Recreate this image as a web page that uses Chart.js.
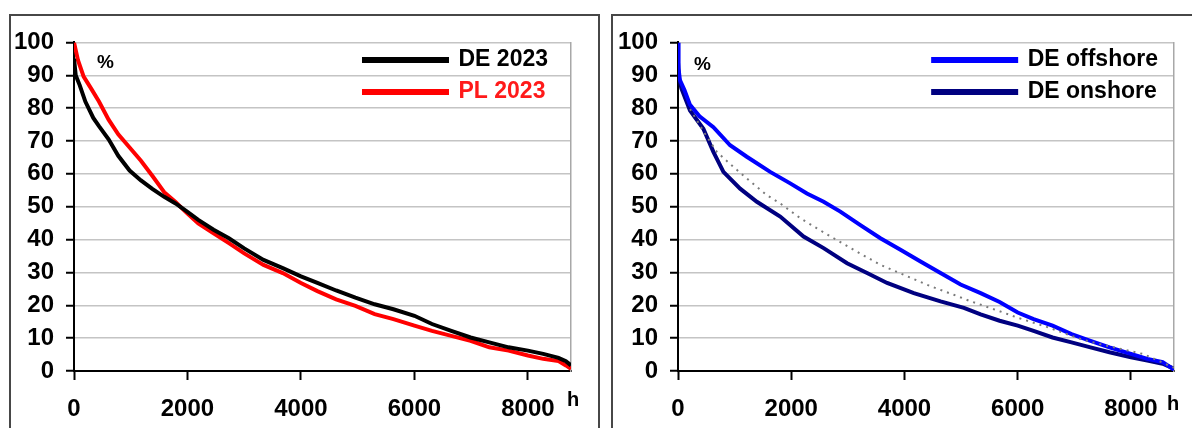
<!DOCTYPE html>
<html>
<head>
<meta charset="utf-8">
<script src="https://cdn.jsdelivr.net/npm/chart.js@4.4.1/dist/chart.umd.min.js"></script>
<style>
  body { margin: 0; background: #fff; width: 1192px; height: 428px; overflow: hidden; position: relative; }
  .panel { position: absolute; top: 14px; height: 440px; border: 2px solid #474747; box-sizing: border-box; }
  #p1 { left: 9px; width: 591px; }
  #p2 { left: 611px; width: 600px; }
  .box { position: absolute; top: 16px; height: 412px; }
  #b1 { left: 11px; width: 587px; }
  #b2 { left: 613px; width: 579px; }
</style>
</head>
<body>
<div class="panel" id="p1"></div>
<div class="panel" id="p2"></div>
<div class="box" id="b1"><canvas id="left"></canvas></div>
<div class="box" id="b2"><canvas id="right"></canvas></div>
<script>
// duration curves, hours of the year vs % of max
const xTicks = [0, 2000, 4000, 6000, 8000];
const yTicks = [0, 10, 20, 30, 40, 50, 60, 70, 80, 90, 100];

const deHours = [0, 30, 100, 200, 340, 440, 610, 780, 980, 1180, 1380, 1590, 1790, 2000, 2190, 2460, 2730, 3000, 3340, 3680, 4000, 4290, 4620, 4960, 5300, 5630, 6000, 6310, 6650, 6990, 7320, 7660, 8000, 8270, 8540, 8670, 8760];
const deValues = [95, 90, 87, 82, 77, 74.5, 70.5, 65.5, 61, 58, 55.4, 53, 51, 48.4, 46, 43, 40.4, 37.3, 33.8, 31.3, 28.8, 26.8, 24.5, 22.3, 20.3, 18.8, 16.8, 14.3, 12.2, 10.2, 8.7, 7.2, 6.2, 5.2, 4, 3, 1.7];

const plHours = [0, 70, 170, 300, 440, 610, 780, 980, 1180, 1380, 1590, 1790, 2000, 2190, 2460, 2730, 3000, 3340, 3680, 4000, 4290, 4620, 4960, 5300, 5630, 6000, 6310, 6650, 6990, 7320, 7660, 8000, 8270, 8540, 8670, 8760];
const plValues = [100, 94.6, 89.6, 86, 82, 76.5, 72, 68, 64, 59.4, 54.4, 51.4, 47.9, 44.9, 41.9, 38.9, 35.8, 32.3, 29.8, 26.8, 24.3, 21.8, 19.8, 17.3, 15.8, 13.8, 12.2, 10.7, 9.2, 7.2, 6.2, 4.7, 3.7, 3, 1.7, 0.7];

const offHours = [0, 10, 34, 114, 212, 380, 625, 920, 1215, 1628, 1982, 2277, 2572, 2867, 3221, 3575, 3929, 4283, 4637, 4991, 5345, 5680, 6000, 6280, 6615, 6950, 7285, 7620, 8000, 8290, 8560, 8760];
const offValues = [100, 92, 88.5, 85.5, 81, 77.5, 74.2, 68.7, 65.2, 60.6, 57.1, 54, 51.5, 48.5, 44.4, 40.4, 36.9, 33.3, 29.8, 26.3, 23.7, 21, 17.8, 15.8, 13.8, 11.2, 9.2, 7.2, 5.2, 3.7, 2.7, 0.4];

const onHours = [0, 20, 60, 212, 448, 625, 802, 1097, 1393, 1805, 2218, 2572, 2986, 3339, 3693, 4165, 4637, 5050, 5345, 5680, 6000, 6280, 6615, 6950, 7285, 7620, 8000, 8290, 8560, 8760];
const onValues = [94, 89, 86, 79.3, 73.7, 66.7, 60.6, 55.5, 51.5, 47, 40.9, 37.4, 32.8, 29.8, 26.8, 23.7, 21.2, 19.2, 17.2, 15.3, 13.8, 12.2, 10.2, 8.7, 7.2, 5.7, 4.2, 3.2, 2.2, 0.7];

const totHours = [212, 478, 685, 920, 1215, 1570, 1805, 2160, 2455, 2750, 3100, 3575, 4050, 4460, 4870, 5170, 5680, 6000, 6500, 7115, 7470, 8230, 8760];
const totValues = [79.7, 72.2, 66.7, 63, 58.6, 53.5, 51, 46.5, 43.4, 40.4, 36.9, 32.3, 28.8, 25.8, 23.2, 21.2, 18.2, 16.2, 13.5, 9.7, 8.1, 5.1, 1];

const FONT = "'Liberation Sans', Arial, sans-serif";
const legendFont = { family: FONT, size: 23, weight: 'bold' };

const pts = (hs, vs) => hs.map((h, i) => ({ x: h, y: vs[i] }));

// legend inside the plot, right aligned; "%" and "h" labels
const extras = {
  id: 'extras',
  afterLayout(chart, args, o) {
    const lg = chart.legend, ca = chart.chartArea;
    if (!lg || !lg.legendItems) return;
    const ctx = chart.ctx;
    ctx.save();
    ctx.font = 'bold ' + legendFont.size + 'px ' + FONT;
    const w = Math.max(...lg.legendItems.map(it => ctx.measureText(it.text).width));
    ctx.restore();
    const lo = lg.options.labels;
    const width = lo.padding + lo.boxWidth + legendFont.size / 2 + w;
    lg.left = ca.right - o.legendRight - width;
    lg.right = ca.right;
    lg.width = lg.right - lg.left;
    lg.top = ca.top + o.legendTop;
    lg.bottom = ca.bottom;
    lg.height = lg.bottom - lg.top;
  },
  afterDraw(chart, args, o) {
    const ca = chart.chartArea, ctx = chart.ctx;
    ctx.save();
    ctx.fillStyle = '#000';
    ctx.textBaseline = 'alphabetic';
    ctx.font = 'bold 19px ' + FONT;
    ctx.fillText('%', ca.left + o.pctX, ca.top + o.pctY);
    ctx.font = 'bold 20px ' + FONT;
    ctx.fillText('h', ca.right + o.hX, ca.bottom + o.hY);
    ctx.restore();
  }
};

function makeChart(id, datasets, lay) {
  return new Chart(document.getElementById(id), {
    type: 'line',
    data: { datasets: datasets },
    options: {
      responsive: true,
      maintainAspectRatio: false,
      animation: false,
      layout: { padding: { top: 23, right: lay.padRight, left: 0, bottom: 0 } },
      elements: { point: { radius: 0 }, line: { tension: 0 } },
      scales: {
        x: {
          type: 'linear',
          min: 0,
          max: 8760,
          afterBuildTicks: (s) => { s.ticks = xTicks.map(v => ({ value: v })); },
          afterFit: (s) => { s.height = 57; },
          ticks: {
            color: '#000',
            padding: 15,
            maxRotation: 0,
            autoSkip: false,
            font: { family: FONT, size: 24, weight: 'bold' },
            callback: (v) => String(v)
          },
          grid: { drawOnChartArea: false, tickColor: '#000', tickLength: 9, tickWidth: 2 },
          border: { color: '#000', width: 2 }
        },
        y: {
          min: 0,
          max: 100,
          afterBuildTicks: (s) => { s.ticks = yTicks.map(v => ({ value: v })); },
          afterFit: (s) => { s.width = lay.yWidth; },
          ticks: {
            color: '#000',
            padding: 12,
            autoSkip: false,
            font: { family: FONT, size: 24, weight: 'bold' }
          },
          grid: { color: '#c4c4c4', lineWidth: 1.5, tickColor: '#000', tickLength: 8, tickWidth: 2 },
          border: { color: '#000', width: 2 }
        },
        y2: {
          position: 'right',
          min: 0,
          max: 100,
          afterFit: (s) => { s.width = 0; },
          ticks: { display: false },
          grid: { display: false },
          border: { color: '#a8a8a8', width: 1.5 }
        }
      },
      plugins: {
        tooltip: { enabled: false },
        legend: {
          position: 'chartArea',
          align: 'start',
          labels: {
            boxWidth: 83,
            boxHeight: 2,
            padding: 9,
            font: legendFont,
            filter: (item) => !item.text.startsWith('_'),
            generateLabels: (chart) => {
              const items = Chart.defaults.plugins.legend.labels.generateLabels(chart);
              items.forEach(it => {
                const ds = chart.data.datasets[it.datasetIndex];
                it.fontColor = ds.labelColor;
                it.lineWidth = 4;
                it.strokeStyle = ds.borderColor;
                it.fillStyle = ds.borderColor;
              });
              return items;
            }
          }
        },
        extras: lay.extras
      }
    },
    plugins: [extras]
  });
}

makeChart('left', [
  { label: 'DE 2023', data: pts(deHours, deValues), borderColor: '#000000', backgroundColor: '#000000', borderWidth: 4, labelColor: '#000000' },
  { label: 'PL 2023', data: pts(plHours, plValues), borderColor: '#ff0000', backgroundColor: '#ff0000', borderWidth: 4, labelColor: '#ff1a1a' }
], { yWidth: 63, padRight: 27, extras: { legendRight: 23, legendTop: -3, pctX: 23, pctY: 26, hX: -4, hY: 35 } });

makeChart('right', [
  { label: 'DE offshore', data: pts(offHours, offValues), borderColor: '#0000ff', backgroundColor: '#0000ff', borderWidth: 4, labelColor: '#000000' },
  { label: 'DE onshore', data: pts(onHours, onValues), borderColor: '#000080', backgroundColor: '#000080', borderWidth: 4, labelColor: '#000000' },
  { label: '_total', data: pts(totHours, totValues), borderColor: '#7a7a7a', borderWidth: 2, borderDash: [2, 5], order: -1, labelColor: '#000' }
], { yWidth: 65, padRight: 18, extras: { legendRight: 16, legendTop: -3, pctX: 16, pctY: 28, hX: -7, hY: 39 } });
</script>
</body>
</html>
